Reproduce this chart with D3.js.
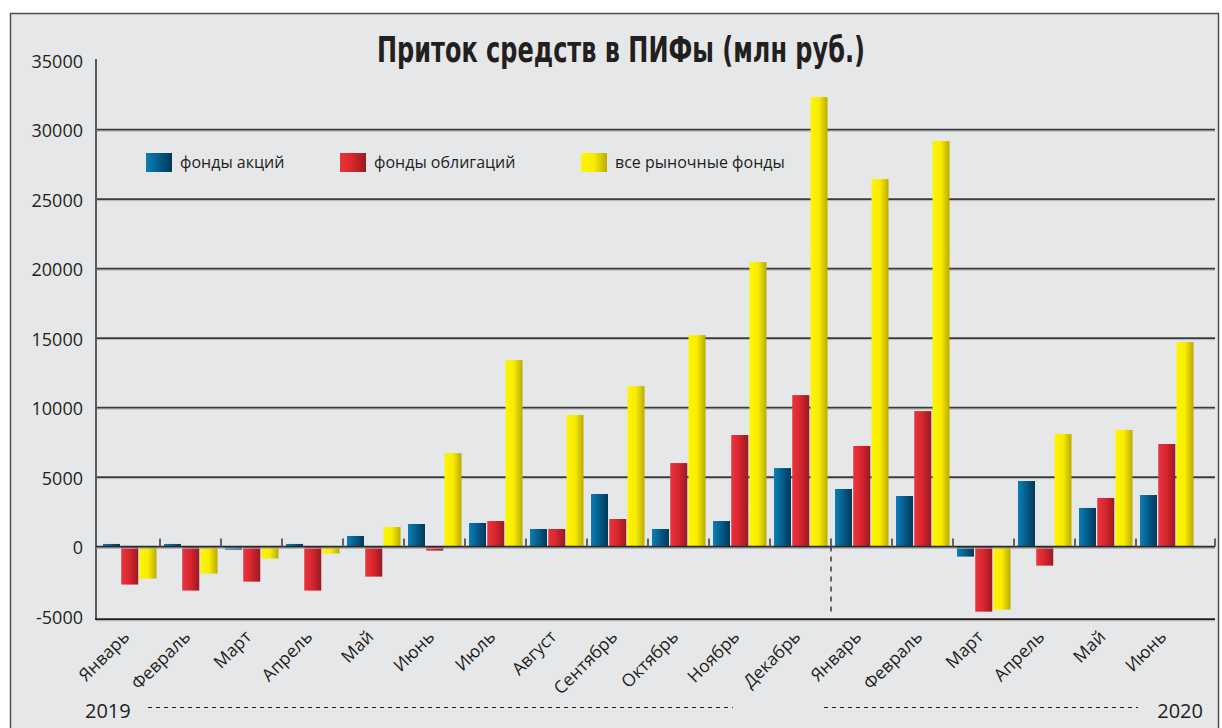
<!DOCTYPE html>
<meta charset="utf-8">
<script src="https://d3js.org/d3.v7.min.js"></script>
<style>
  body { margin: 0; background: #fff; }
  text { font-family: "Open Sans", "Noto Sans", sans-serif; fill: #231f20; }
</style>
<div id="chart"></div>
<script>

// months of 2019 (first 12) and 2020 (last 6)
var months = ["Январь", "Февраль", "Март", "Апрель", "Май", "Июнь", "Июль", "Август",
  "Сентябрь", "Октябрь", "Ноябрь", "Декабрь", "Январь", "Февраль", "Март", "Апрель", "Май", "Июнь"];

// inflows, mln rub
var stockFunds = [190, 190, -220, 190, 765, 1625, 1700, 1265, 3785, 1265, 1840, 5650,
  4145, 3640, -720, 4720, 2780, 3710];
var bondFunds = [-2730, -3165, -2520, -3165, -2160, -290, 1840, 1265, 1985, 6010, 8030, 10900,
  7240, 9750, -4680, -1370, 3500, 7380];
var allFunds = [-2300, -1940, -860, -500, 1410, 6730, 13420, 9470, 11550, 15220, 20470, 32340,
  26440, 29180, -4530, 8100, 8390, 14720];

var seriesNames = ["фонды акций", "фонды облигаций", "все рыночные фонды"];
var yTicks = [-5000, 0, 5000, 10000, 15000, 20000, 25000, 30000, 35000];
var years = ["2019", "2020"];

var W = 1222, H = 728;
var svg = d3.select("#chart").append("svg")
  .attr("width", W).attr("height", H);

// gradients for the bars (light left, dark right)
var gradStops = [
  [["0%", "#0b7fb8"], ["100%", "#00385a"]],
  [["0%", "#e9343e"], ["45%", "#d9262f"], ["100%", "#991a20"]],
  [["0%", "#fff500"], ["50%", "#f8ec00"], ["100%", "#bcab00"]]
];
var defs = svg.append("defs");
gradStops.forEach(function(stops, i) {
  var g = defs.append("linearGradient").attr("id", "grad" + i)
    .attr("x1", "0%").attr("x2", "100%").attr("y1", "0%").attr("y2", "0%");
  stops.forEach(function(s) {
    g.append("stop").attr("offset", s[0]).attr("stop-color", s[1]);
  });
});

// frame
svg.append("rect")
  .attr("x", 10.5).attr("y", 13.5).attr("width", 1208).attr("height", 740)
  .attr("fill", "#e6e7e9").attr("stroke", "#4d4d4f").attr("stroke-width", 1.5);

// title
svg.append("text")
  .attr("x", 621).attr("y", 62)
  .attr("text-anchor", "middle")
  .attr("textLength", 488).attr("lengthAdjust", "spacingAndGlyphs")
  .style("font-family", "'Liberation Sans Narrow', 'DejaVu Sans Condensed', sans-serif")
  .style("font-weight", "bold").style("font-size", "36px")
  .text("Приток средств в ПИФы (млн руб.)");

// scales
var plotLeft = 96, plotRight = 1215;
var x = d3.scaleBand().domain(d3.range(months.length)).range([99, 1197]).padding(0);
var xs = d3.scaleBand().domain([0, 1, 2]).range([4, 57.5]).paddingInner(0.0685).paddingOuter(0);
var y = d3.scaleLinear().domain([-5000, 35000]).range([616.1, 60.1]);

// grid lines (with a light shadow under each)
var grid = svg.append("g");
yTicks.filter(function(t) { return t > 0 && t < 35000; }).forEach(function(t) {
  grid.append("line").attr("x1", plotLeft).attr("x2", plotRight)
    .attr("y1", y(t) + 1.5).attr("y2", y(t) + 1.5)
    .attr("stroke", "#b4b5b8").attr("stroke-width", 1);
  grid.append("line").attr("x1", plotLeft).attr("x2", plotRight)
    .attr("y1", y(t)).attr("y2", y(t))
    .attr("stroke", "#3c3c3e").attr("stroke-width", 1.6);
});

// y tick labels
svg.append("g").selectAll("text").data(yTicks).enter().append("text")
  .attr("x", 83).attr("y", function(d) { return y(d) + 3; })
  .attr("text-anchor", "end").attr("dominant-baseline", "middle")
  .style("font-size", "18px")
  .text(function(d) { return d; });

// bars
var table = months.map(function(m, i) {
  return [stockFunds[i], bondFunds[i], allFunds[i]];
});
var groups = svg.append("g").selectAll("g").data(table).enter().append("g")
  .attr("transform", function(d, i) { return "translate(" + x(i) + ",0)"; });
groups.selectAll("rect").data(function(d) { return d; }).enter().append("rect")
  .attr("x", function(d, j) { return xs(j); })
  .attr("width", xs.bandwidth())
  .attr("y", function(d) { return y(Math.max(0, d)); })
  .attr("height", function(d) { return Math.abs(y(d) - y(0)); })
  .attr("fill", function(d, j) { return "url(#grad" + j + ")"; });

// y axis line
svg.append("line").attr("x1", plotLeft).attr("x2", plotLeft)
  .attr("y1", y(35000) - 1).attr("y2", y(-5000) + 3)
  .attr("stroke", "#5a5a5c").attr("stroke-width", 2);

// bottom line
svg.append("line").attr("x1", plotLeft).attr("x2", plotRight)
  .attr("y1", y(-5000) + 4.5).attr("y2", y(-5000) + 4.5)
  .attr("stroke", "#b4b5b8").attr("stroke-width", 1.5);
svg.append("line").attr("x1", plotLeft - 1).attr("x2", plotRight)
  .attr("y1", y(-5000) + 3).attr("y2", y(-5000) + 3)
  .attr("stroke", "#231f20").attr("stroke-width", 1.6);

// zero line with group separator ticks
svg.append("line").attr("x1", plotLeft).attr("x2", plotRight)
  .attr("y1", y(0) + 1.5).attr("y2", y(0) + 1.5)
  .attr("stroke", "#a7a8ab").attr("stroke-width", 1.2);
svg.append("line").attr("x1", plotLeft).attr("x2", plotRight)
  .attr("y1", y(0)).attr("y2", y(0))
  .attr("stroke", "#2a2a2c").attr("stroke-width", 1.8);
var sepX = d3.range(1, months.length).map(function(i) { return x(i); }).concat([plotRight]);
svg.append("g").selectAll("line").data(sepX).enter().append("line")
  .attr("x1", function(d) { return d; }).attr("x2", function(d) { return d; })
  .attr("y1", y(0) - 8).attr("y2", y(0))
  .attr("stroke", "#555557").attr("stroke-width", 1.8);

// dashed divider between 2019 and 2020
svg.append("line").attr("x1", x(12)).attr("x2", x(12))
  .attr("y1", y(0)).attr("y2", y(-4800))
  .attr("stroke", "#3a3a3c").attr("stroke-width", 1.5)
  .attr("stroke-dasharray", "5,5");

// month labels
svg.append("g").selectAll("text").data(months).enter().append("text")
  .attr("transform", function(d, i) {
    return "translate(" + (x(i) + x.bandwidth() / 2 + 1) + ",638) rotate(-45)";
  })
  .attr("text-anchor", "end")
  .style("font-size", "17.5px")
  .text(function(d) { return d; });

// legend
var legendX = [146, 340, 581];
var legend = svg.append("g").selectAll("g").data(seriesNames).enter().append("g")
  .attr("transform", function(d, i) { return "translate(" + legendX[i] + ",153)"; });
legend.append("rect").attr("width", 26).attr("height", 19)
  .attr("fill", function(d, i) { return "url(#grad" + i + ")"; });
legend.append("text").attr("x", 34).attr("y", 15)
  .style("font-size", "16px")
  .text(function(d) { return d; });

// years with dashed guides
svg.append("text").attr("x", 85).attr("y", 718)
  .style("font-size", "20px").text(years[0]);
svg.append("text").attr("x", 1203).attr("y", 718).attr("text-anchor", "end")
  .style("font-size", "20px").text(years[1]);
svg.append("line").attr("x1", 148).attr("x2", 733).attr("y1", 707.5).attr("y2", 707.5)
  .attr("stroke", "#231f20").attr("stroke-width", 1).attr("stroke-dasharray", "4,4");
svg.append("line").attr("x1", 824).attr("x2", 1138).attr("y1", 707.5).attr("y2", 707.5)
  .attr("stroke", "#231f20").attr("stroke-width", 1).attr("stroke-dasharray", "4,4");

</script>
